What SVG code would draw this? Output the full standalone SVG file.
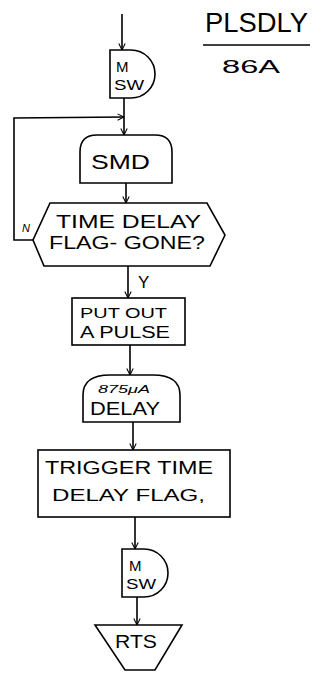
<svg xmlns="http://www.w3.org/2000/svg" width="327" height="677" viewBox="0 0 327 677">
<defs>
<marker id="arr" viewBox="0 0 10 10" refX="9" refY="5" markerWidth="8" markerHeight="8" orient="auto" markerUnits="userSpaceOnUse">
<path d="M1,1 L9,5 L1,9" fill="none" stroke="#000" stroke-width="1.3"/>
</marker>
<style>
.s{fill:#fff;stroke:#000;stroke-width:1.6}
.c{fill:none;stroke:#000;stroke-width:1.6;marker-end:url(#arr)}
.l{fill:none;stroke:#000;stroke-width:1.6}
text{font-family:"Liberation Sans",Arial,sans-serif;fill:#000}
.sm{font-size:11px;font-style:italic}
</style>
</defs>
<rect width="327" height="677" fill="#fff"/>
<g id="title">
<text x="205" y="32" font-size="27" textLength="103" lengthAdjust="spacingAndGlyphs">PLSDLY</text>
<line x1="203" y1="45" x2="310" y2="45" class="l"/>
<text x="222" y="73" font-size="18" textLength="58" lengthAdjust="spacingAndGlyphs">86A</text>
</g>
<g id="connectors">
<line class="c" x1="122" y1="14" x2="122" y2="50"/>
<line class="c" x1="124" y1="98" x2="124" y2="135"/>
<polyline class="c" points="34,240 14,240 14,118 124,117"/>
<line class="c" x1="126" y1="183" x2="126" y2="203"/>
<line class="c" x1="128" y1="266" x2="128" y2="298"/>
<line class="c" x1="130" y1="345" x2="130" y2="375"/>
<line class="c" x1="133" y1="422" x2="133" y2="450"/>
<line class="c" x1="135" y1="517" x2="135" y2="549"/>
<line class="c" x1="137" y1="597" x2="137" y2="625"/>
<text x="22" y="232" class="sm">N</text>
<text x="138" y="288" font-size="17">Y</text>
</g>
<g id="msw1">
<path class="s" d="M110,50 H131 A24,24 0 0 1 131,98 H110 Z"/>
<text x="116" y="72" font-size="15">M</text>
<text x="114" y="90" font-size="15" textLength="30" lengthAdjust="spacingAndGlyphs">SW</text>
</g>
<g id="smd">
<path class="s" d="M80,183 V152 Q80,135 97,135 H155 Q172,135 172,152 V183 Z"/>
<text x="91" y="169" font-size="20" textLength="59" lengthAdjust="spacingAndGlyphs">SMD</text>
</g>
<g id="decision">
<polygon class="s" points="50,203 207,203 225,235 210,266 44,266 33,240"/>
<text x="56" y="228" font-size="19" textLength="145" lengthAdjust="spacingAndGlyphs">TIME DELAY</text>
<text x="49" y="249" font-size="18" textLength="156" lengthAdjust="spacingAndGlyphs">FLAG- GONE?</text>
</g>
<g id="pulse">
<rect class="s" x="72" y="298" width="113" height="47"/>
<text x="80" y="318" font-size="15" textLength="87" lengthAdjust="spacingAndGlyphs">PUT OUT</text>
<text x="80" y="338" font-size="16" textLength="90" lengthAdjust="spacingAndGlyphs">A PULSE</text>
</g>
<g id="delay">
<path class="s" d="M83,422 V395 Q83,375 110,375 H153 Q180,375 180,395 V422 Z"/>
<text x="98" y="393" font-size="11" font-style="italic" textLength="52" lengthAdjust="spacingAndGlyphs">875μA</text>
<text x="90" y="415" font-size="18" textLength="70" lengthAdjust="spacingAndGlyphs">DELAY</text>
</g>
<g id="trigger">
<rect class="s" x="38" y="450" width="192" height="67"/>
<text x="45" y="474" font-size="18" textLength="168" lengthAdjust="spacingAndGlyphs">TRIGGER TIME</text>
<text x="52" y="501" font-size="17" textLength="153" lengthAdjust="spacingAndGlyphs">DELAY FLAG,</text>
</g>
<g id="msw2">
<path class="s" d="M122,549 H144 A24,24 0 0 1 144,597 H122 Z"/>
<text x="129" y="571" font-size="15">M</text>
<text x="126" y="589" font-size="15" textLength="30" lengthAdjust="spacingAndGlyphs">SW</text>
</g>
<g id="rts">
<polygon class="s" points="95,625 182,625 155,670 125,670"/>
<text x="115" y="648" font-size="19" textLength="42" lengthAdjust="spacingAndGlyphs">RTS</text>
</g>
</svg>
